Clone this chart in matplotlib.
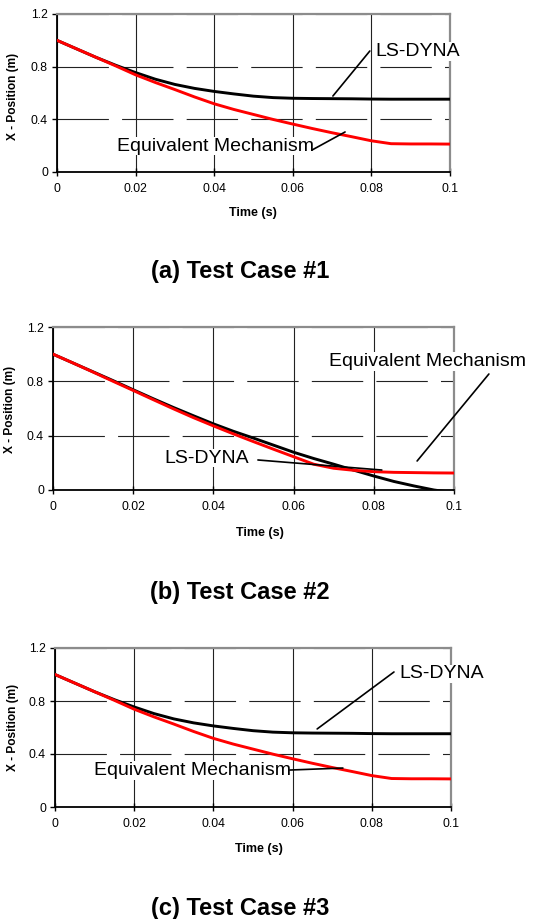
import matplotlib
matplotlib.use("Agg")
import matplotlib.pyplot as plt

plt.rcParams['font.family'] = ['Liberation Sans', 'DejaVu Sans']
plt.rcParams['lines.scale_dashes'] = False

# ---------------- data ----------------
time = [0.0, 0.005, 0.01, 0.015, 0.02, 0.025, 0.03, 0.035, 0.04, 0.045, 0.05,
        0.055, 0.06, 0.065, 0.07, 0.075, 0.08, 0.085, 0.09, 0.095, 0.1]

case1_lsdyna = [1.0, 0.935, 0.87, 0.81, 0.755, 0.705, 0.665, 0.635, 0.612, 0.593, 0.576,
                0.565, 0.56, 0.558, 0.557, 0.556, 0.554, 0.553, 0.553, 0.553, 0.553]
case1_mech = [1.0, 0.935, 0.87, 0.805, 0.738, 0.68, 0.626, 0.57, 0.518, 0.475, 0.437,
              0.399, 0.364, 0.33, 0.298, 0.268, 0.237, 0.215, 0.213, 0.213, 0.212]

case2_lsdyna = [1.0, 0.935, 0.87, 0.805, 0.738, 0.672, 0.608, 0.547, 0.487, 0.432, 0.382,
                0.33, 0.278, 0.232, 0.19, 0.146, 0.103, 0.063, 0.03, 0.0, -0.02]
case2_mech = [1.0, 0.935, 0.868, 0.8, 0.733, 0.665, 0.598, 0.533, 0.472, 0.413, 0.356,
              0.3, 0.245, 0.19, 0.16, 0.145, 0.135, 0.13, 0.128, 0.126, 0.125]

case3_lsdyna = [1.0, 0.935, 0.87, 0.81, 0.755, 0.705, 0.665, 0.635, 0.612, 0.593, 0.576,
                0.565, 0.56, 0.558, 0.557, 0.556, 0.554, 0.553, 0.553, 0.553, 0.553]
case3_mech = [1.0, 0.935, 0.87, 0.805, 0.738, 0.68, 0.626, 0.57, 0.518, 0.475, 0.437,
              0.399, 0.364, 0.33, 0.298, 0.268, 0.237, 0.215, 0.213, 0.213, 0.212]

x_ticks = [0, 0.02, 0.04, 0.06, 0.08, 0.1]
x_ticklabels = ['0', '0.02', '0.04', '0.06', '0.08', '0.1']
y_ticks = [0, 0.4, 0.8, 1.2]
y_ticklabels = ['0', '0.4', '0.8', '1.2']

titles = ['(a) Test Case #1', '(b) Test Case #2', '(c) Test Case #3']
label_lsdyna = 'LS-DYNA'
label_mech = 'Equivalent Mechanism'
xlabel = 'Time (s)'
ylabel = 'X - Position (m)'

# ---------------- layout ----------------
W, H = 535, 919
fig = plt.figure(figsize=(W / 100, H / 100), dpi=100)


def px_axes(l, r, t, b):
    return [l / W, 1 - b / H, (r - l) / W, (b - t) / H]


panels = [
    dict(rect=px_axes(57, 450, 14, 172), ls=case1_lsdyna, em=case1_mech,
         ls_text=(0.0809, 0.881), ls_line=((0.0796, 0.919), (0.0702, 0.577)),
         em_text=(0.0153, 0.162), em_line=((0.0649, 0.167), (0.0733, 0.304)),
         xl=(0.4987, -0.2595), yl=(-0.112, 0.481), title_y=271),
    dict(rect=px_axes(53, 454, 327, 490), ls=case2_lsdyna, em=case2_mech,
         ls_text=(0.0277, 0.201), ls_line=((0.0511, 0.221), (0.082, 0.147)),
         em_text=(0.0688, 0.913), em_line=((0.1087, 0.854), (0.0908, 0.2135)),
         xl=(0.515, -0.2638), yl=(-0.107, 0.497), title_y=592),
    dict(rect=px_axes(55, 451, 648, 807), ls=case3_lsdyna, em=case3_mech,
         ls_text=(0.0869, 0.971), ls_line=((0.0856, 1.019), (0.0662, 0.589)),
         em_text=(0.00985, 0.2415), em_line=((0.0593, 0.279), (0.0727, 0.294)),
         xl=(0.515, -0.264), yl=(-0.106, 0.503), title_y=908),
]

for p, title in zip(panels, titles):
    ax = fig.add_axes(p['rect'])
    ax.set_xlim(0, 0.1)
    ax.set_ylim(0, 1.2)
    ax.set_xticks(x_ticks)
    ax.set_xticklabels(x_ticklabels)
    ax.set_yticks(y_ticks)
    ax.set_yticklabels(y_ticklabels)
    ax.tick_params(axis='x', direction='inout', length=6, width=1, pad=5,
                   labelsize=8.8, colors='black')
    ax.tick_params(axis='y', direction='out', length=3.5, width=1, pad=3,
                   labelsize=8.8, colors='black')

    # gridlines: solid vertical, long-dashed horizontal
    ax.xaxis.grid(True, color='#222222', lw=0.8, ls='-')
    ax.yaxis.grid(True, color='#222222', lw=0.8, ls=(0, (37, 9.5)))
    ax.set_axisbelow(True)

    for s in ('left', 'bottom'):
        ax.spines[s].set_color('black')
        ax.spines[s].set_linewidth(1.3)
    for s in ('top', 'right'):
        ax.spines[s].set_color('#8c8c8c')
        ax.spines[s].set_linewidth(1.6)

    ax.plot(time, p['ls'], color='black', lw=2.1, zorder=4)
    ax.plot(time, p['em'], color='#ff0000', lw=2.1, zorder=5)

    bbox = dict(facecolor='white', edgecolor='none', pad=0.5)
    ax.text(*p['ls_text'], label_lsdyna, fontsize=14, ha='left', va='baseline',
            bbox=bbox, zorder=3, clip_on=False)
    ax.text(*p['em_text'], label_mech, fontsize=14, ha='left', va='baseline',
            bbox=bbox, zorder=3, clip_on=False)
    for (a, b) in (p['ls_line'], p['em_line']):
        ax.annotate('', xy=b, xytext=a,
                    arrowprops=dict(arrowstyle='-', color='black', lw=1.2,
                                    shrinkA=0, shrinkB=0),
                    annotation_clip=False, zorder=6)

    ax.set_xlabel(xlabel, fontsize=9, fontweight='bold', va='center')
    ax.xaxis.set_label_coords(*p['xl'])
    ax.set_ylabel(ylabel, fontsize=8.6, fontweight='bold', va='center')
    ax.yaxis.set_label_coords(*p['yl'])

    fig.text(240 / W, 1 - p['title_y'] / H, title, fontsize=17,
             fontweight='bold', ha='center', va='center')

fig.savefig('out.png', dpi=100)
